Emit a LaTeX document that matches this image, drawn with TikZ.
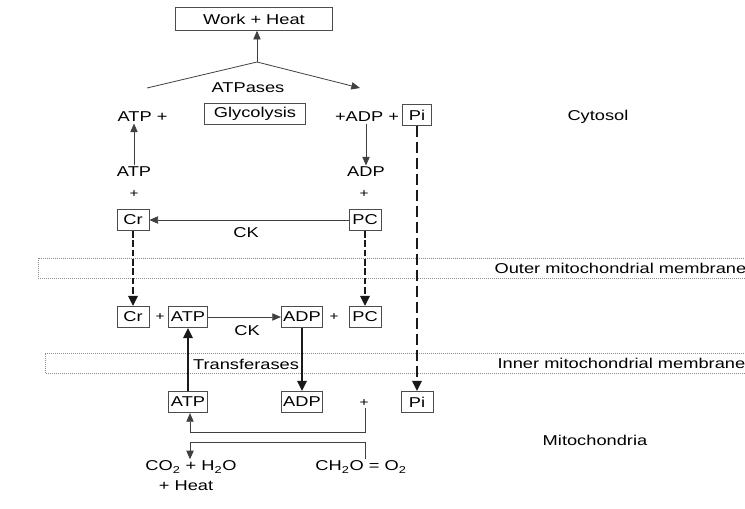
\documentclass[tikz,border=0pt]{standalone}
\usepackage{fontspec}
\setmainfont{Liberation Sans}[FakeStretch=1.28]
\usetikzlibrary{arrows.meta}
\begin{document}
\begin{tikzpicture}[x=0.75pt,y=-0.75pt,
  every node/.style={font=\fontsize{10.7}{12}\selectfont, inner sep=1pt, text=black},
  box/.style={draw=black!70, line width=0.6pt, minimum height=16pt, inner sep=1pt},
  ln/.style={draw=black!75, line width=0.6pt},
  arr/.style={ln, -{Triangle[length=6.5pt,width=5.5pt]}},
  thickarr/.style={draw=black!90, line width=1.3pt, -{Triangle[length=7.5pt,width=7pt]}},
  crdash/.style={draw=black!90, line width=1.7pt, dash pattern=on 5pt off 2pt, -{Triangle[length=7.5pt,width=7pt]}},
  pidash/.style={draw=black!90, line width=1.6pt, dash pattern=on 8pt off 4pt, -{Triangle[length=7.5pt,width=7pt]}},
  memb/.style={draw=black!45, line width=0.5pt, densely dotted},
  plus/.style={font=\fontsize{9}{10}\selectfont}
]
\useasboundingbox (0,0) rectangle (745,508);

% membranes
\draw[memb] (770,258) -- (38,258) -- (38,278) -- (770,278);
\draw[memb] (770,353) -- (45,353) -- (45,373) -- (770,373);
\node[anchor=west] (outer) at (493,268) {Outer mitochondrial membrane};
\node[anchor=west] (inner) at (496,363) {Inner mitochondrial membrane};

% region labels
\node (cyto) at (598,117) {Cytosol};
\node (mito) at (595,440) {Mitochondria};

% top
\node[box, minimum width=118pt, minimum height=17pt] (work) at (254,19) {Work + Heat};
\coordinate (apex) at (257,62);
\coordinate (lend) at (147,88);
\coordinate (rend) at (360,88);
\draw[ln] (lend) -- (apex);
\draw[arr] (apex) -- (rend);
\draw[arr] (apex) -- (apex |- work.south);
\node (atpases) at (248,88) {ATPases};

% cytosol row
\node[anchor=west] (atpp) at (116,117) {ATP +};
\node[box, minimum width=76pt] (glyco) at (255,114) {Glycolysis};
\node (adpp) at (367,117) {+ADP +};
\node[box, minimum width=22pt] (pi1) at (417,115) {Pi};

\node (atp1) at (134,172) {ATP};
\node (adp1) at (366,172) {ADP};
\draw[arr] (atp1.north) -- (atp1.north |- atpp.south);
\draw[arr] (adp1.north |- adpp.south) -- (adp1.north);
\node[plus] (pl1) at (134,194) {+};
\node[plus] (pl2) at (364,194) {+};

\node[box, minimum width=24pt] (cr1) at (133,220) {Cr};
\node[box, minimum width=24pt] (pc1) at (365,220) {PC};
\draw[arr] (pc1.west) -- (cr1.east);
\node (ck1) at (246,233) {CK};

% intermembrane row
\node[box, minimum width=24pt] (cr2) at (133,317) {Cr};
\node[plus] (pl3) at (160,317) {+};
\node[box, minimum width=29pt] (atp2) at (188,317) {ATP};
\node[box, minimum width=31pt] (adp2) at (302,317) {ADP};
\node[plus] (pl4) at (334,317) {+};
\node[box, minimum width=24pt] (pc2) at (365,317) {PC};
\draw[arr] (atp2.east) -- (adp2.west);
\node (ck2) at (247,331) {CK};

\draw[crdash] (cr1.south) -- (cr2.north);
\draw[crdash] (pc1.south) -- (pc2.north);

% matrix row
\node[box, minimum width=29pt] (atp3) at (188,402) {ATP};
\node[box, minimum width=31pt] (adp3) at (302,402) {ADP};
\node[plus] (pl5) at (364,403) {+};
\node[box, minimum width=24pt] (pi3) at (417,402) {Pi};
\draw[pidash] (pi1.south) -- (pi3.north);

\node (transf) at (246,364) {Transferases};
\draw[thickarr] (atp3.north) -- (atp2.south);
\draw[thickarr] (adp2.south) -- (adp3.north);

% bottom
\node (co2) at (191,467) {CO\textsubscript{2} + H\textsubscript{2}O};
\node (heat) at (186,486) {+ Heat};
\node (ch2o) at (361,467) {CH\textsubscript{2}O = O\textsubscript{2}};
\coordinate (b1) at (190,432);
\coordinate (b2) at (190,442);
\draw[arr] (pl5.south -| 365,0) |- (b1) -- (b1 |- atp3.south);
\draw[arr] (ch2o.north -| 365,0) |- (b2) -- (b2 |- co2.north);
\end{tikzpicture}
\end{document}
